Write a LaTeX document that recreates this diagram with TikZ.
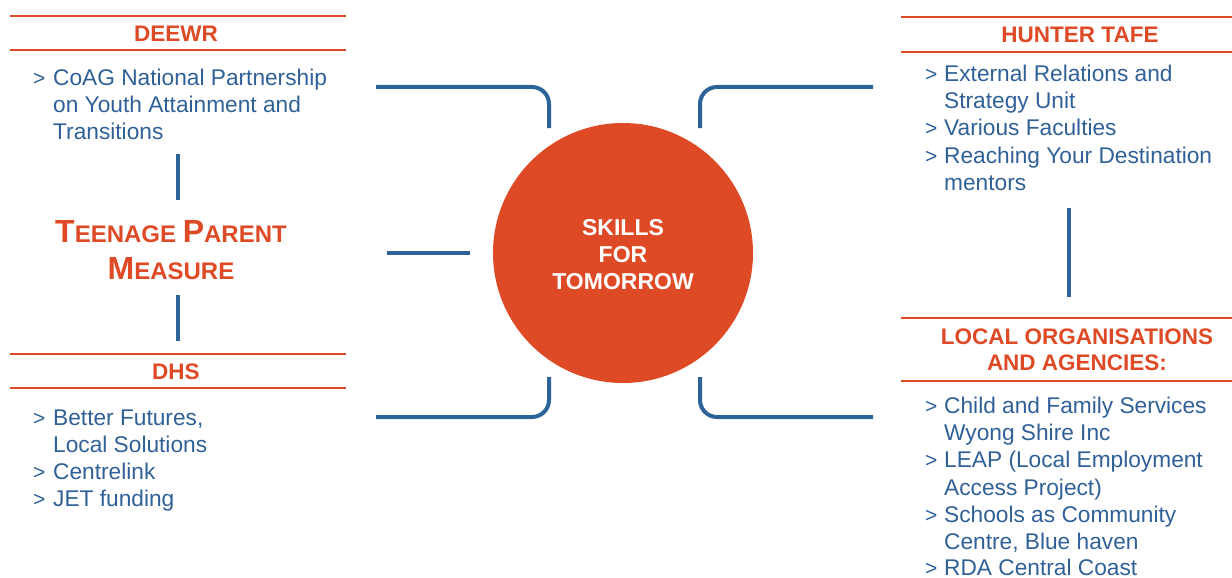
\documentclass[tikz,border=0pt]{standalone}
\usepackage{fontspec}
\setmainfont{Liberation Sans}
\definecolor{orng}{HTML}{DF4A26}
\definecolor{blueln}{HTML}{2C6399}
\definecolor{bluetx}{HTML}{2F6097}
\begin{document}
\begin{tikzpicture}[x=1pt,y=-1pt,
  item/.style={inner sep=0pt,anchor=base west,text=bluetx,font=\fontsize{22.7}{27}\selectfont},
  gt/.style={inner sep=0pt,anchor=base west,text=bluetx,font=\fontsize{21}{27}\selectfont},
  head/.style={inner sep=0pt,text=orng,font=\bfseries\fontsize{22.5}{27}\selectfont,align=center},
  hline/.style={draw=orng,line width=2.5pt},
  bline/.style={draw=blueln,line width=4pt},
  hub/.style={circle,fill=orng,minimum size=260pt,inner sep=0pt,text=white,font=\bfseries\fontsize{23}{27}\selectfont,align=center}]
\useasboundingbox (0,0) rectangle (1232,578);
% centre
\node[hub] (hub) at (623,253) {};
\node[inner sep=0pt,text=white,font=\bfseries\fontsize{23}{27}\selectfont,align=center] (hubtext) at (623,255) {SKILLS\\FOR\\TOMORROW};
% DEEWR
\draw[hline] (10,16) -- (346,16);
\draw[hline] (10,50) -- (346,50);
\node[head] (deewr) at (176,34) {DEEWR};
\node[gt] (g1) at (33,85.5) {>};
\node[item] (d1) at (53,85.5) {CoAG National Partnership};
\node[item] (d2) at (53,112.5) {on Youth Attainment and};
\node[item] (d3) at (53,139.5) {Transitions};
% Teenage parent measure
\node[inner sep=0pt,text=orng,font=\bfseries,align=center] (tpm) at (171,250)
 {{\fontsize{32}{32}\selectfont T}{\fontsize{24}{24}\selectfont EENAGE }{\fontsize{32}{32}\selectfont P}{\fontsize{24}{24}\selectfont ARENT}\\[14pt]
  {\fontsize{32}{32}\selectfont M}{\fontsize{24}{24}\selectfont EASURE}};
\coordinate (v1a) at (178,154); \coordinate (v1b) at (178,200);
\coordinate (v2a) at (178,295); \coordinate (v2b) at (178,341);
\draw[bline] (v1a) -- (v1b);
\draw[bline] (v2a) -- (v2b);
% DHS
\draw[hline] (10,354) -- (346,354);
\draw[hline] (10,388) -- (346,388);
\node[head] (dhs) at (176,372) {DHS};
\node[gt] (g2) at (33,425.5) {>};
\node[item] (h1) at (53,425.5) {Better Futures,};
\node[item] (h2) at (53,452.5) {Local Solutions};
\node[gt] (g3) at (33,479.5) {>};
\node[item] (h3) at (53,479.5) {Centrelink};
\node[gt] (g4) at (33,506.5) {>};
\node[item] (h4) at (53,506.5) {JET funding};
% brackets
\coordinate (tl1) at (376,87); \coordinate (tl2) at (549,87); \coordinate (tl3) at (549,128);
\coordinate (bl1) at (376,417); \coordinate (bl2) at (549,417); \coordinate (bl3) at (549,377);
\coordinate (tr1) at (873,87); \coordinate (tr2) at (700,87); \coordinate (tr3) at (700,128);
\coordinate (br1) at (873,417); \coordinate (br2) at (700,417); \coordinate (br3) at (700,377);
\coordinate (ml1) at (387,253); \coordinate (ml2) at (470,253);
\draw[bline,rounded corners=17pt] (tl1) -- (tl2) -- (tl3);
\draw[bline,rounded corners=17pt] (bl1) -- (bl2) -- (bl3);
\draw[bline,rounded corners=17pt] (tr1) -- (tr2) -- (tr3);
\draw[bline,rounded corners=17pt] (br1) -- (br2) -- (br3);
\draw[bline] (ml1) -- (ml2);
% HUNTER TAFE
\draw[hline] (901,17) -- (1232,17);
\draw[hline] (901,52) -- (1232,52);
\node[head] (tafe) at (1080,35) {HUNTER TAFE};
\node[gt] (g5) at (925,81.5) {>};
\node[item] (t1) at (944,81.5) {External Relations and};
\node[item] (t2) at (944,108.5) {Strategy Unit};
\node[gt] (g6) at (925,135.5) {>};
\node[item] (t3) at (944,135.5) {Various Faculties};
\node[gt] (g7) at (925,163) {>};
\node[item] (t4) at (944,163) {Reaching Your Destination};
\node[item] (t5) at (944,190) {mentors};
\coordinate (v3a) at (1069,208); \coordinate (v3b) at (1069,297);
\draw[bline] (v3a) -- (v3b);
% LOCAL ORGANISATIONS
\draw[hline] (901,318) -- (1232,318);
\draw[hline] (901,381) -- (1232,381);
\node[head] (loc) at (1077,349.5) {LOCAL ORGANISATIONS\\[-1pt]AND AGENCIES:};
\node[gt] (g8) at (925,413.5) {>};
\node[item] (l1) at (944,413.5) {Child and Family Services};
\node[item] (l2) at (944,440.5) {Wyong Shire Inc};
\node[gt] (g9) at (925,467.5) {>};
\node[item] (l3) at (944,467.5) {LEAP (Local Employment};
\node[item] (l4) at (944,495) {Access Project)};
\node[gt] (g10) at (925,522) {>};
\node[item] (l5) at (944,522) {Schools as Community};
\node[item] (l6) at (944,549) {Centre, Blue haven};
\node[gt] (g11) at (925,575.5) {>};
\node[item] (l7) at (944,575.5) {RDA Central Coast};
\end{tikzpicture}
\end{document}
